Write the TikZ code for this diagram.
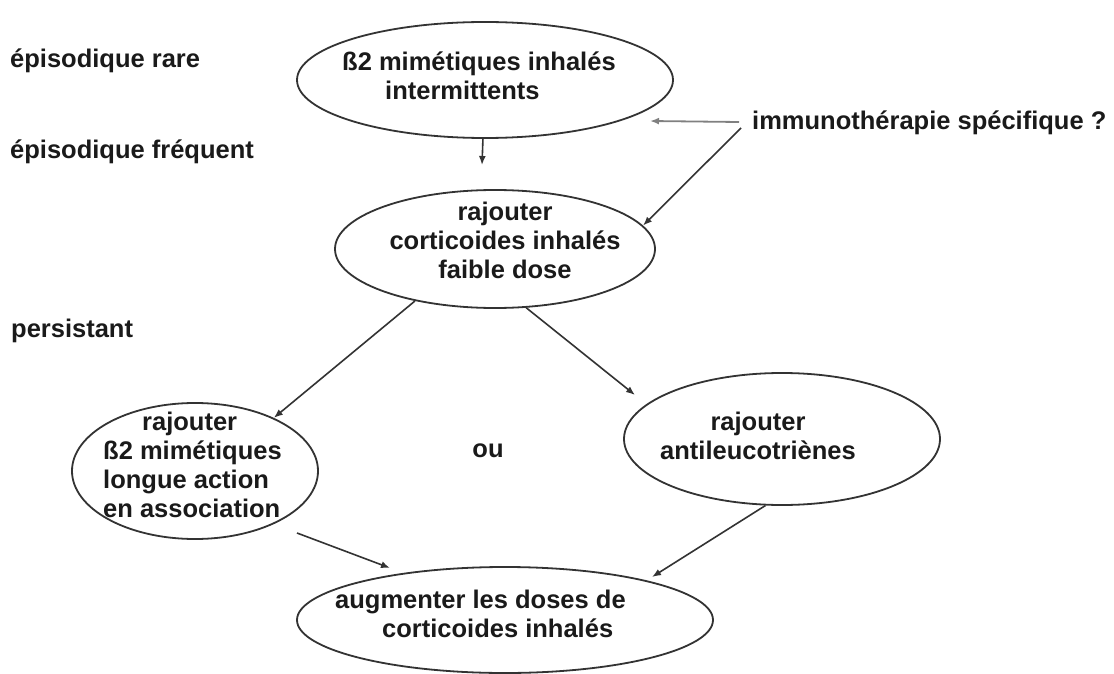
\documentclass[tikz,border=0pt]{standalone}
\usepackage{fontspec}
\setmainfont{Liberation Sans}
\usetikzlibrary{shapes.geometric,arrows.meta}
\definecolor{ink}{HTML}{1A1A1A}
\definecolor{linec}{HTML}{333333}
\definecolor{greyarrow}{HTML}{808080}
\begin{document}
\begin{tikzpicture}[x=1pt,y=-1pt,
  oval/.style={ellipse,draw=linec,line width=1.8pt,inner sep=0pt},
  txt/.style={inner sep=0pt,text=ink,font=\bfseries\fontsize{25.5}{29}\selectfont},
  conn/.style={draw=linec,line width=1.6pt,-{Latex[length=9pt,width=7pt]}},
  gconn/.style={draw=greyarrow,line width=1.8pt,-{Latex[length=9pt,width=7pt]}}]
\useasboundingbox[fill=white] (0,0) rectangle (1114,674);

% ellipses
\node[oval,minimum width=376pt,minimum height=116pt] (e1) at (485,80) {};
\node[oval,minimum width=320pt,minimum height=118pt] (e2) at (495,249) {};
\node[oval,minimum width=246pt,minimum height=136pt] (e3) at (195,471) {};
\node[oval,minimum width=316pt,minimum height=132pt] (e4) at (782,439) {};
\node[oval,minimum width=416pt,minimum height=106pt] (e5) at (505,620) {};

% texts inside ellipses
\node[txt,align=left,anchor=north west] (t1) at (342,52)
  {ß2 mimétiques inhalés\\\hspace*{43pt}intermittents};
\node[txt,align=center,anchor=north] (t2) at (505,202)
  {rajouter\\corticoides inhalés\\faible dose};
\node[txt,align=left,anchor=north west] (t3) at (103,412)
  {\hspace*{39pt}rajouter\\ß2 mimétiques\\longue action\\en association};
\node[txt,align=center,anchor=north] (t4) at (758,412)
  {rajouter\\antileucotriènes};
\node[txt,align=left,anchor=north west] (t5) at (335,590)
  {augmenter les doses de\\\hspace*{47pt}corticoides inhalés};

% side labels
\node[txt,anchor=base west] (l1) at (10,68) {épisodique rare};
\node[txt,anchor=base west] (l2) at (10,158) {épisodique fréquent};
\node[txt,anchor=base west] (l3) at (11,337) {persistant};
\node[txt,anchor=base] (ou) at (488,457) {ou};
\node[txt,anchor=base west] (imm) at (752,130) {immunothérapie spécifique ?};

% free ends
\coordinate (a1) at (482,165);
\coordinate (b0) at (739,122);
\coordinate (b1) at (650,121);
\coordinate (c0) at (741,128);
\coordinate (e4in) at (635,395);
\coordinate (f0) at (297,533);
\coordinate (f1) at (390,568);
\coordinate (g1) at (652,577);

% connectors
\draw[conn] (e1.268) -- (a1);
\draw[gconn] (b0) -- (b1);
\draw[conn] (c0) -- (e2.9);
\draw[conn] (e2.213) -- (e3.34);
\draw[conn] (e2.298) -- (e4in);
\draw[conn] (f0) -- (f1);
\draw[conn] (e4.256) -- (g1);
\end{tikzpicture}
\end{document}
